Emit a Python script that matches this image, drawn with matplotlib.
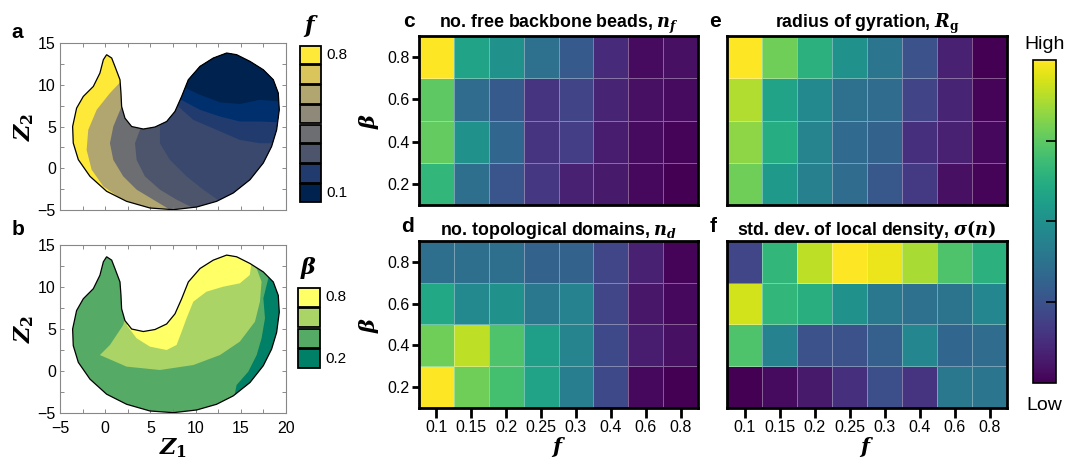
import numpy as np
import matplotlib
matplotlib.use("Agg")
import matplotlib.pyplot as plt
from matplotlib.patches import Polygon

plt.rcParams['font.family'] = ['Liberation Sans', 'DejaVu Sans']
plt.rcParams['mathtext.fontset'] = 'custom'
plt.rcParams['mathtext.it'] = 'DejaVu Serif:italic:bold'
plt.rcParams['mathtext.bf'] = 'DejaVu Serif:italic:bold'
plt.rcParams['mathtext.rm'] = 'DejaVu Serif:bold'

# ---- data -----------------------------------------------------------
f_values = [0.1, 0.15, 0.2, 0.25, 0.3, 0.4, 0.6, 0.8]
beta_values = [0.2, 0.4, 0.6, 0.8]

# normalised heat-map values, rows = beta 0.2 .. 0.8, cols = f values
n_free = np.array([
    [0.66, 0.36, 0.26, 0.16, 0.09, 0.07, 0.02, 0.00],
    [0.76, 0.50, 0.33, 0.15, 0.18, 0.08, 0.03, 0.01],
    [0.75, 0.35, 0.28, 0.15, 0.20, 0.10, 0.04, 0.03],
    [1.00, 0.58, 0.50, 0.37, 0.28, 0.12, 0.03, 0.04],
])
n_domains = np.array([
    [1.00, 0.78, 0.70, 0.58, 0.42, 0.22, 0.02, 0.00],
    [0.78, 0.90, 0.72, 0.56, 0.45, 0.22, 0.08, 0.04],
    [0.60, 0.47, 0.50, 0.40, 0.44, 0.21, 0.06, 0.02],
    [0.36, 0.36, 0.36, 0.31, 0.31, 0.21, 0.09, 0.01],
])
r_gyr = np.array([
    [0.78, 0.54, 0.43, 0.35, 0.27, 0.17, 0.04, 0.01],
    [0.83, 0.62, 0.45, 0.34, 0.31, 0.14, 0.09, 0.02],
    [0.88, 0.58, 0.47, 0.37, 0.35, 0.20, 0.10, 0.01],
    [1.00, 0.78, 0.64, 0.50, 0.39, 0.25, 0.09, 0.00],
])
sigma_n = np.array([
    [0.00, 0.03, 0.07, 0.14, 0.24, 0.15, 0.40, 0.39],
    [0.72, 0.44, 0.25, 0.25, 0.30, 0.46, 0.33, 0.35],
    [0.93, 0.66, 0.63, 0.50, 0.40, 0.37, 0.38, 0.46],
    [0.21, 0.66, 0.90, 1.00, 0.97, 0.87, 0.72, 0.64],
])

# latent space (Z1, Z2) outline of the embedded region
outline_z1 = [0.16, 0.72, 1.08, 1.64, 1.75, 1.82, 2.19, 2.93, 4.22, 5.51, 6.8, 7.72,
              8.46, 9.2, 10.49, 11.96, 13.44, 14.54, 16.02, 17.49, 18.6, 19.15, 19.26,
              18.97, 18.41, 17.49, 16.02, 14.17, 12.33, 10.12, 7.54, 4.96, 2.37, 0.16,
              -1.68, -2.97, -3.53, -3.6, -3.16, -2.42, -1.31, -0.58, -0.2]
outline_z2 = [13.6, 13.2, 12.2, 10.6, 9.0, 7.4, 6.0, 5.0, 4.7, 4.94, 5.6, 6.8,
              8.6, 10.6, 12.2, 13.2, 13.8, 13.6, 12.8, 11.8, 10.6, 9.0, 7.0,
              4.6, 2.6, 0.63, -1.37, -2.96, -3.96, -4.64, -4.96, -4.76, -3.96, -2.76,
              -0.97, 1.03, 3.02, 5.0, 7.2, 8.6, 9.8, 11.4, 13.0]

# f regions in latent space: base value, then boundaries (high f side -> low f side)
f_base = 0.8
f_boundaries = [
    (0.6, [3.5, 1.75, 0.53, -0.94, -1.87, -2.05, -1.5, -0.2, 1.64, 3.85, 5.32, 5.5],
          [10.4, 10.4, 9.0, 7.0, 4.6, 2.2, -0.17, -2.17, -3.56, -4.56, -4.96, -8]),
    (0.4, [4.0, 1.82, 0.9, 0.53, 0.9, 2.0, 3.48, 5.32, 7.17, 7.3],
          [7.4, 7.4, 5.0, 3.0, 1.0, -0.97, -2.56, -3.76, -4.96, -8]),
    (0.3, [4.0, 3.85, 3.3, 3.48, 4.4, 6.06, 7.9, 9.75, 9.9],
          [6.0, 4.6, 3.0, 1.0, -0.97, -2.56, -3.76, -4.76, -8]),
    (0.25, [6.0, 6.06, 6.06, 7.17, 9.0, 10.86, 12.7, 13.2],
           [6.5, 5.2, 3.0, 1.0, -0.97, -2.56, -3.96, -8]),
    (0.2, [7.0, 8.09, 9.75, 12.33, 14.9, 17.1, 19.3, 22.0],
          [8.5, 7.4, 5.8, 4.6, 3.4, 3.0, 3.0, 3.0]),
    (0.15, [7.3, 8.4, 10.5, 12.7, 14.9, 17.1, 19.3, 22.0],
           [9.5, 8.2, 7.0, 6.2, 5.6, 5.6, 5.5, 5.5]),
    (0.1, [7.8, 8.9, 10.5, 12.7, 14.9, 17.1, 19.3, 22.0],
          [10.5, 9.6, 8.8, 7.9, 7.7, 8.2, 8.0, 8.0]),
]

# beta regions in latent space
beta_base = 0.4
beta_regions = [
    (0.6, [2.0, 0.53, -0.58, 2.37, 6.06, 9.75, 12.7, 14.9, 16.57, 17.12, 17.3, 16.76, 15.65,
           14.9, 9.75, 6.06, 2.37],
          [5.48, 3.1, 1.9, 0.52, 0.12, 0.71, 1.9, 3.5, 5.87, 8.25, 10.63, 12.2, 13.4,
           15.0, 15.0, 9.05, 7.06]),
    (0.8, [2.37, 3.48, 4.96, 6.8, 7.9, 8.46, 9.0, 9.75, 11.2, 13.07, 14.9, 16.0, 16.2,
           14.9, 9.75, 7.17, 6.06, 3.11],
          [5.48, 3.89, 2.9, 2.5, 3.1, 4.68, 6.27, 8.25, 9.44, 10.04, 10.44, 11.43, 13.0,
           14.6, 14.6, 11.03, 7.06, 6.27]),
    (0.2, [20.07, 18.23, 18.05, 17.5, 17.68, 17.3, 16.76, 15.83, 14.54, 14.17, 25, 25],
          [15.0, 12.6, 11.03, 8.65, 6.27, 3.89, 1.9, -0.08, -1.67, -3.65, -10, 20]),
]

# ---- figure ------------------------------------------------------------
fig = plt.figure(figsize=(10.67, 4.69), dpi=100)

cividis = plt.get_cmap('cividis')
summer = plt.get_cmap('summer')


def f_color(v):
    return cividis((v - 0.1) / 0.7)


def beta_color(v):
    return summer((v - 0.2) / 0.6)


def latent_axes(rect, show_x):
    ax = fig.add_axes(rect)
    ax.set_xlim(-5, 20)
    ax.set_ylim(-5, 15)
    ax.set_xticks(np.arange(-5, 21, 5))
    ax.set_xticks(np.arange(-5, 21, 2.5), minor=True)
    ax.set_yticks(np.arange(-5, 16, 5))
    ax.set_yticks(np.arange(-5, 16, 2.5), minor=True)
    ax.tick_params(which='both', direction='in', top=True, right=True,
                   length=3, width=0.6, color='#777777', labelsize=11.5)
    ax.tick_params(axis='y', pad=3)
    ax.tick_params(axis='x', pad=6)
    if not show_x:
        ax.tick_params(labelbottom=False)
    for s in ax.spines.values():
        s.set_color('#888888')
        s.set_linewidth(0.8)
    ax.set_ylabel(r'$Z_2$', fontsize=16, labelpad=1)
    return ax


def fill_clipped(ax, xs, ys, color, clip):
    patch = ax.fill(xs, ys, color=color, lw=0)[0]
    patch.set_clip_path(clip)


outline_xy = np.column_stack([outline_z1, outline_z2])

# panel a
ax_a = latent_axes([0.0562, 0.5522, 0.2118, 0.3561], False)
clip_a = Polygon(outline_xy, closed=True, fc='none', ec='none')
ax_a.add_patch(clip_a)
fill_clipped(ax_a, outline_z1, outline_z2, f_color(f_base), clip_a)
for val, bx, by in f_boundaries:
    xs = list(bx) + [25, 25, bx[0]]
    ys = list(by) + [-10, 20, 20]
    fill_clipped(ax_a, xs, ys, f_color(val), clip_a)
ax_a.add_patch(Polygon(outline_xy, closed=True, fc='none', ec='black', lw=0.9, zorder=5))

# panel b
ax_b = latent_axes([0.0562, 0.1194, 0.2118, 0.3582], True)
ax_b.set_xlabel(r'$Z_1$', fontsize=16, labelpad=0)
clip_b = Polygon(outline_xy, closed=True, fc='none', ec='none')
ax_b.add_patch(clip_b)
fill_clipped(ax_b, outline_z1, outline_z2, beta_color(beta_base), clip_b)
for val, xs, ys in beta_regions:
    fill_clipped(ax_b, xs, ys, beta_color(val), clip_b)
ax_b.add_patch(Polygon(outline_xy, closed=True, fc='none', ec='black', lw=0.9, zorder=5))


def level_bar(rect, colors, labels, title):
    ax = fig.add_axes(rect)
    n = len(colors)
    for i, c in enumerate(colors):
        ax.bar(0.5, 0.94, bottom=i + 0.03, width=1.0, color=c, edgecolor='black',
               lw=1.3, clip_on=False)
    ax.set_xlim(0, 1)
    ax.set_ylim(0, n)
    ax.axis('off')
    ax.text(1.25, n - 0.5, labels[-1], va='center', ha='left', fontsize=11)
    ax.text(1.25, 0.5, labels[0], va='center', ha='left', fontsize=11)
    ax.text(0.5, n + 0.3, title, ha='center', va='bottom', fontsize=16)


level_bar([0.2812, 0.5672, 0.0197, 0.3369], cividis(np.linspace(0, 1, 8)),
          ['0.1', '0.8'], r'$f$')
level_bar([0.2793, 0.2132, 0.0206, 0.1748], summer(np.linspace(0, 1, 4)),
          ['0.2', '0.8'], r'$\beta$')


def heat_axes(rect, data, title, ylab, xlab):
    ax = fig.add_axes(rect)
    ax.pcolormesh(np.arange(len(f_values) + 1), np.arange(len(beta_values) + 1), data,
                  cmap='viridis', vmin=0, vmax=1, edgecolors=(1, 1, 1, 0.35),
                  linewidth=0.6)
    ax.set_xlim(0, len(f_values))
    ax.set_ylim(0, len(beta_values))
    for s in ax.spines.values():
        s.set_linewidth(2)
    ax.set_title(title, fontsize=12.8, fontweight='bold', pad=4)
    if ylab:
        ax.set_yticks(np.arange(len(beta_values)) + 0.5, [str(b) for b in beta_values])
        ax.tick_params(axis='y', direction='out', length=5, width=2, labelsize=11.5, pad=2)
        ax.set_ylabel(r'$\beta$', fontsize=15, labelpad=4)
    else:
        ax.set_yticks([])
    if xlab:
        ax.set_xticks(np.arange(len(f_values)) + 0.5, [str(v) for v in f_values])
        ax.tick_params(axis='x', direction='out', length=7, width=2, labelsize=11.5, pad=2)
        ax.set_xlabel(r'$f$', fontsize=15, labelpad=0)
    else:
        ax.set_xticks([])
    return ax


heat_axes([0.3927, 0.5629, 0.2615, 0.3603], n_free,
          r'no. free backbone beads, $n_f$', True, False)
heat_axes([0.3927, 0.1301, 0.2615, 0.3561], n_domains,
          r'no. topological domains, $n_d$', True, True)
heat_axes([0.6814, 0.5629, 0.2624, 0.3603], r_gyr,
          r'radius of gyration, $R_\mathrm{g}$', False, False)
heat_axes([0.6814, 0.1301, 0.2624, 0.3561], sigma_n,
          r'std. dev. of local density, $\sigma(n)$', False, True)

# shared colour bar
cax = fig.add_axes([0.9681, 0.1834, 0.0216, 0.6887])
sm = plt.cm.ScalarMappable(cmap='viridis', norm=plt.Normalize(0, 1))
cb = fig.colorbar(sm, cax=cax)
cb.set_ticks([0.25, 0.5, 0.75])
cb.ax.tick_params(direction='in', length=7, width=1.2, labelright=False, color='black')
cb.outline.set_linewidth(1.2)
fig.text(0.9789, 0.905, 'High', ha='center', va='center', fontsize=14)
fig.text(0.9789, 0.135, 'Low', ha='center', va='center', fontsize=14)

# panel letters
for x, y, s in [(0.011, 0.93, 'a'), (0.011, 0.51, 'b'), (0.378, 0.955, 'c'),
                (0.376, 0.516, 'd'), (0.665, 0.955, 'e'), (0.665, 0.516, 'f')]:
    fig.text(x, y, s, fontsize=15, fontweight='bold', ha='left', va='center')

fig.savefig('out.png', dpi=100)
